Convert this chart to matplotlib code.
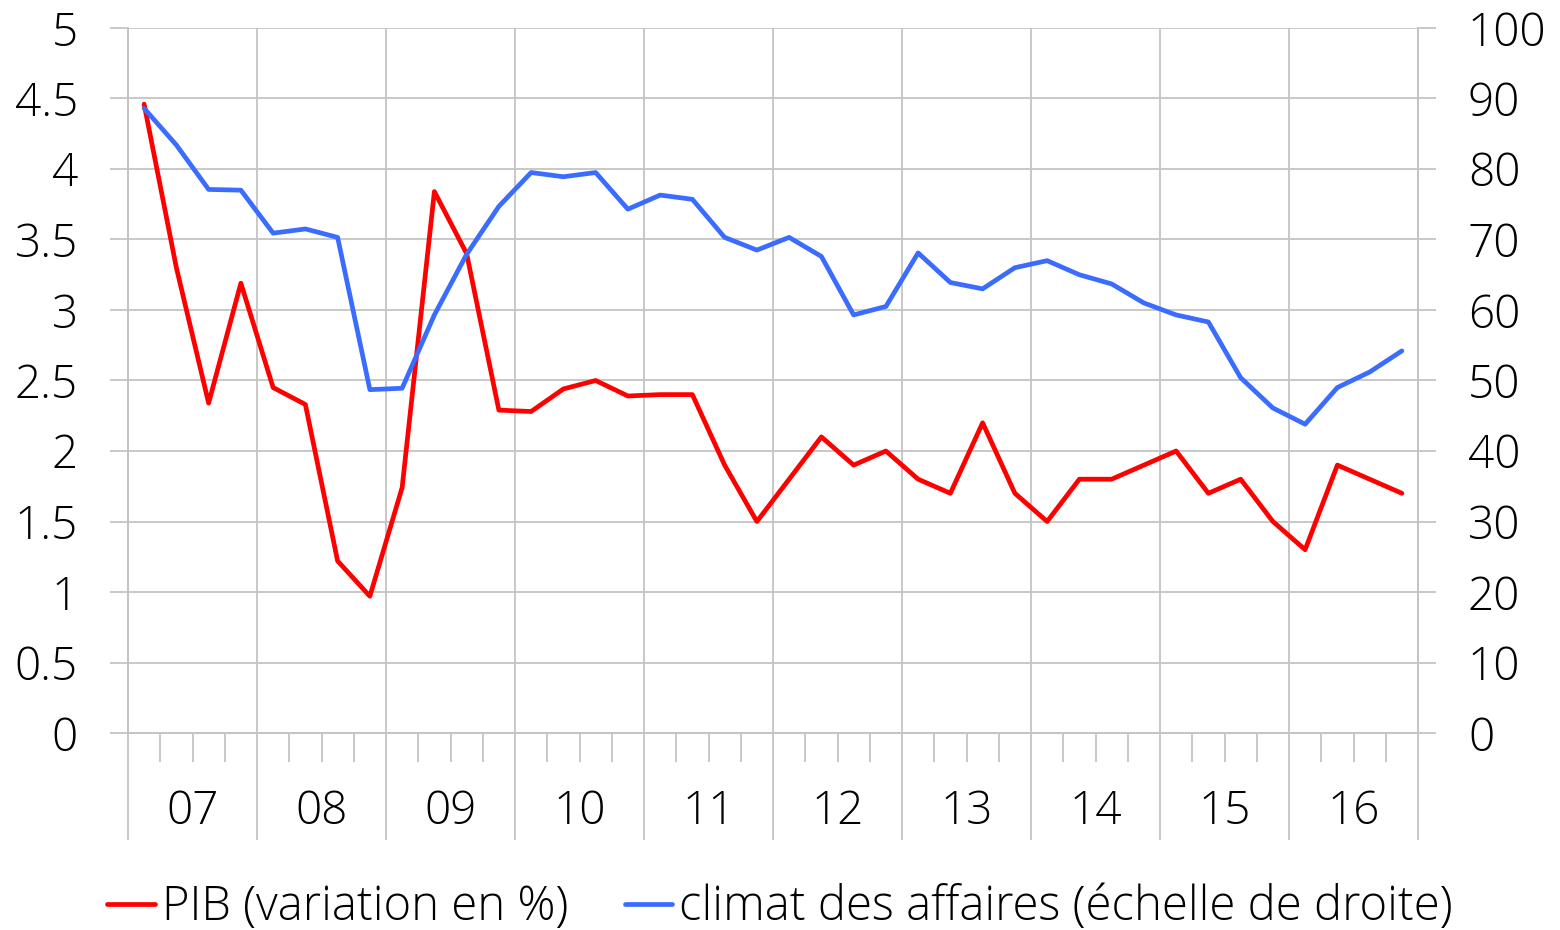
import numpy as np
import matplotlib
matplotlib.use("Agg")
from matplotlib import pyplot as plt
from matplotlib import transforms

plt.rcParams['font.family'] = ['Open Sans', 'DejaVu Sans']
plt.rcParams['font.weight'] = 'light'

YEARS = ['07', '08', '09', '10', '11', '12', '13', '14', '15', '16']

# PIB, variation en % (une valeur par trimestre, 2007T1 - 2016T4)
pib = [4.46, 3.30, 2.34, 3.19, 2.45, 2.33, 1.22, 0.97,
       1.74, 3.84, 3.40, 2.29, 2.28, 2.44, 2.50, 2.39,
       2.40, 2.40, 1.90, 1.50, 1.80, 2.10, 1.90, 2.00,
       1.80, 1.70, 2.20, 1.70, 1.50, 1.80, 1.80, 1.90,
       2.00, 1.70, 1.80, 1.50, 1.30, 1.90, 1.80, 1.70]

# climat des affaires (echelle de droite)
climat = [88.6, 83.4, 77.1, 77.0, 70.9, 71.5, 70.3, 48.7,
          48.9, 59.3, 67.9, 74.7, 79.5, 78.9, 79.5, 74.3,
          76.3, 75.7, 70.3, 68.5, 70.3, 67.6, 59.3, 60.5,
          68.1, 63.9, 63.0, 66.0, 67.0, 65.0, 63.7, 61.0,
          59.3, 58.3, 50.4, 46.1, 43.8, 49.0, 51.2, 54.2]

left_ticks = [0, 0.5, 1, 1.5, 2, 2.5, 3, 3.5, 4, 4.5, 5]
left_labels = ['0', '0.5', '1', '1.5', '2', '2.5', '3', '3.5', '4', '4.5', '5']
right_ticks = [0, 10, 20, 30, 40, 50, 60, 70, 80, 90, 100]

GRID = '#c4c4c4'
RED = '#ff0000'
BLUE = '#3a6cff'
FS = 33
FS_LEG = 34

fig = plt.figure(figsize=(15.6, 9.3), dpi=100)
ax = fig.add_axes([128 / 1560, 197 / 930, 1290 / 1560, 705 / 930])
ax2 = ax.twinx()

x = np.arange(len(pib)) + 0.5
l1, = ax.plot(x, pib, color=RED, lw=3.4, solid_joinstyle='round',
              solid_capstyle='round', label='PIB (variation en %)')
l2, = ax2.plot(x, climat, color=BLUE, lw=3.4, solid_joinstyle='round',
               solid_capstyle='round', label='climat des affaires (échelle de droite)')

ax.set_xlim(0, len(pib))
ax.set_ylim(0, 5)
ax2.set_ylim(0, 100)

ax.set_yticks(left_ticks)
ax.set_yticklabels(left_labels)
ax2.set_yticks(right_ticks)
ax2.set_yticklabels([str(t) for t in right_ticks])

ax.set_xticks(np.arange(0, len(pib) + 1, 4))
ax.set_xticks(np.arange(0, len(pib) + 1), minor=True)
ax.set_xticklabels([])

ax.grid(True, which='major', color=GRID, lw=1.3)
ax.set_axisbelow(True)

ax.tick_params(axis='y', direction='out', length=13, width=1.3, color=GRID,
               pad=23, labelsize=FS, labelcolor='black')
ax2.tick_params(axis='y', direction='out', length=13, width=1.3, color=GRID,
                pad=23, labelsize=FS, labelcolor='black')
ax.tick_params(axis='x', which='major', direction='out', length=77, width=1.3,
               color=GRID)
ax.tick_params(axis='x', which='minor', direction='out', length=21, width=1.3,
               color=GRID)

for a in (ax, ax2):
    for side in ('left', 'right', 'bottom'):
        a.spines[side].set_color(GRID)
        a.spines[side].set_linewidth(1.3)
    a.spines['top'].set_visible(False)

trans = transforms.blended_transform_factory(ax.transData, ax.transAxes)
for i, yr in enumerate(YEARS):
    ax.text(i * 4 + 2, -0.112, yr, transform=trans, ha='center', va='center',
            fontsize=FS)

fig.legend(handles=[l1, l2], loc='center', bbox_to_anchor=(0.5, 1 - 908 / 930),
           ncol=2, frameon=False, fontsize=FS_LEG, handlelength=1.0,
           handletextpad=0.15, columnspacing=1.2, borderaxespad=0)

fig.savefig('out.png', dpi=100)
